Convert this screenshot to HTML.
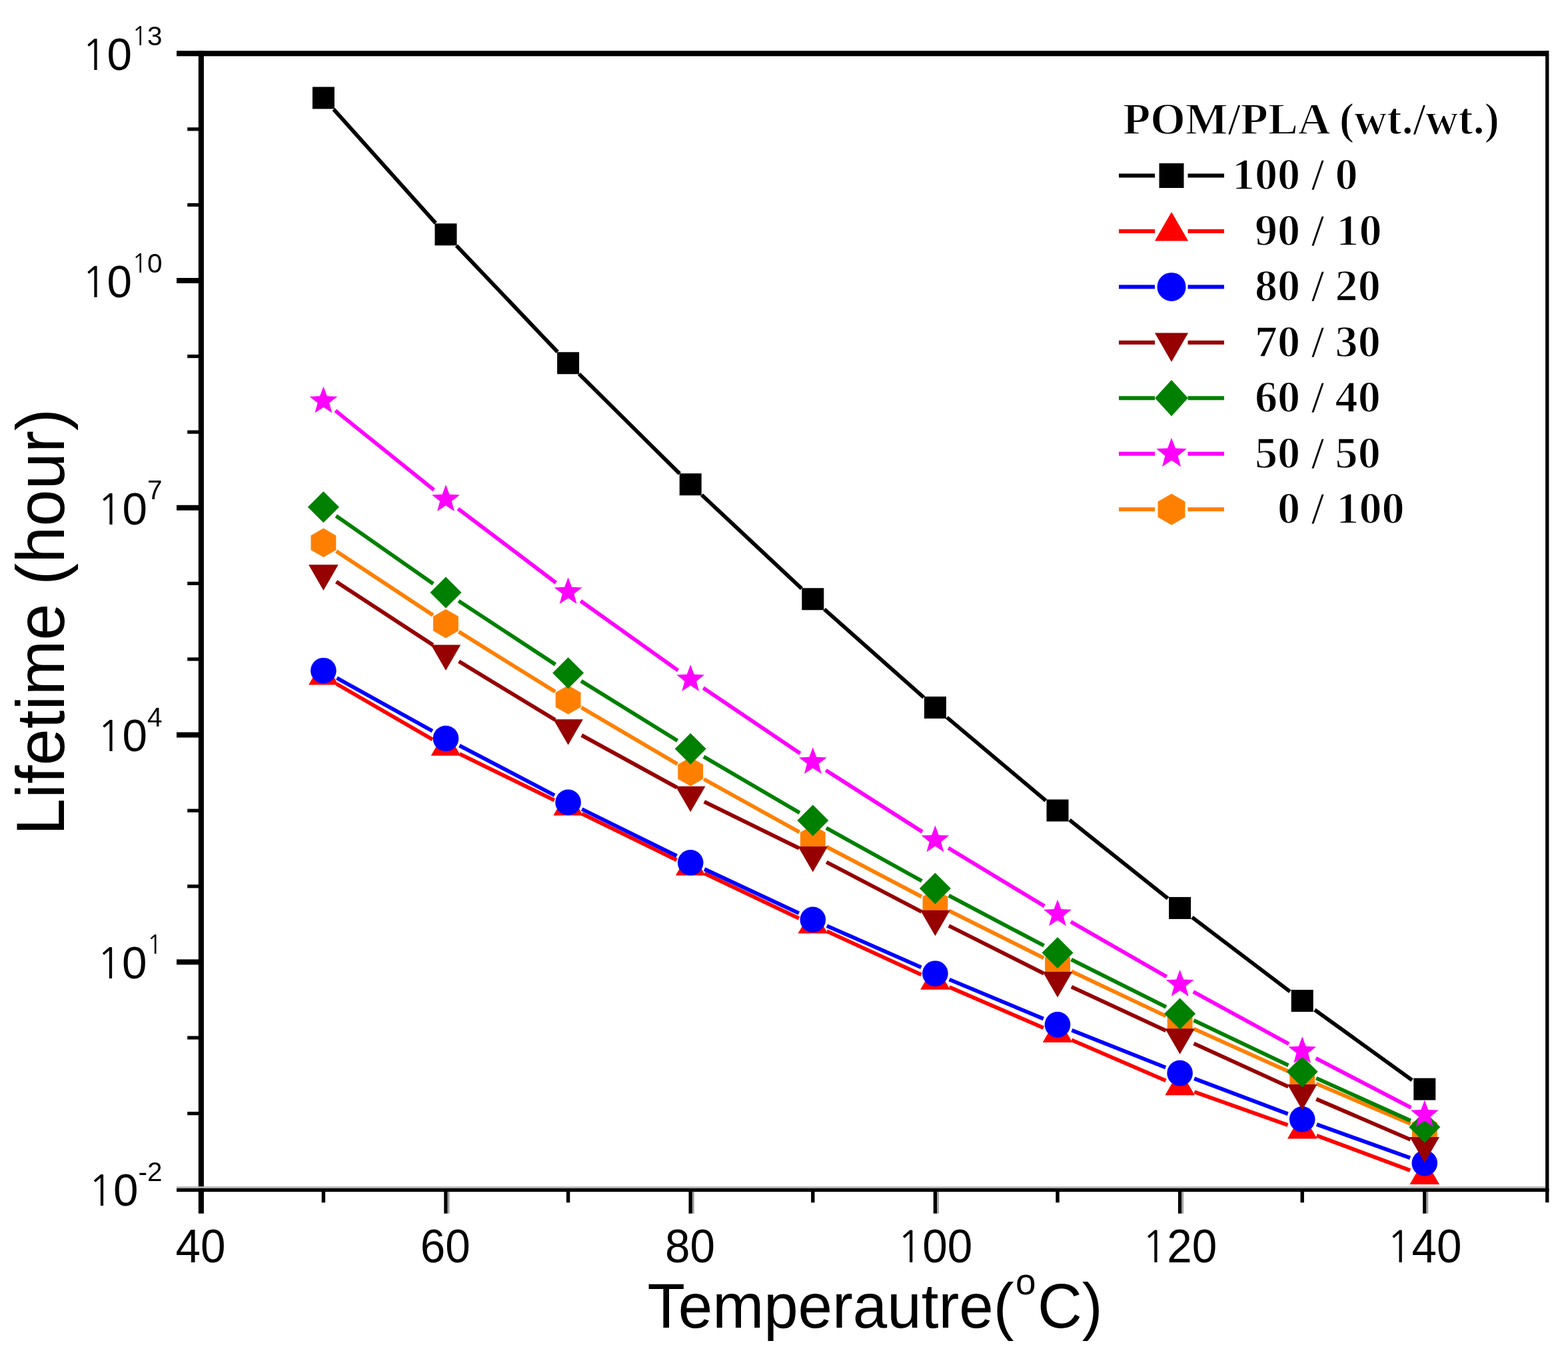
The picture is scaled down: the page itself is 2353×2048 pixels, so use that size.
<!DOCTYPE html>
<html><head><meta charset="utf-8"><title>Lifetime vs Temperature</title>
<style>
html,body{margin:0;padding:0;background:#fff;overflow:hidden}
svg{display:block}
text{font-family:"Liberation Sans",Arial,sans-serif;fill:#000}
.tk{font-size:67.4px}
.sup{font-size:40.5px}
.lg,.lgt{font-family:"Liberation Serif","Times New Roman",serif;font-weight:bold;font-size:68.2px;stroke:#fff;stroke-width:1.5px}
.lgt{font-size:67.6px}
.ttl{font-size:92.5px}
.ytl{font-size:99.3px}
</style></head>
<body>
<svg width="2353" height="2048" viewBox="0 0 2353 2048">
<rect width="2353" height="2048" fill="#fff"/>
<rect x="265" y="76.2" width="2059" height="8.1" fill="#000"/>
<rect x="297.8" y="76.2" width="8.1" height="1744.5" fill="#000"/>
<rect x="2319.1" y="76.2" width="5.3" height="1728" fill="#000"/>
<rect x="265" y="1780.1" width="2054" height="2.7" fill="#b8b8b8"/>
<rect x="265" y="1782.8" width="2059.4" height="5.4" fill="#000"/>
<rect x="281.2" y="1668.0" width="17" height="5.2" fill="#000"/>
<rect x="281.2" y="1554.4" width="17" height="5.2" fill="#000"/>
<rect x="265" y="1439.4" width="33" height="8" fill="#000"/>
<rect x="281.2" y="1327.2" width="17" height="5.2" fill="#000"/>
<rect x="281.2" y="1213.6" width="17" height="5.2" fill="#000"/>
<rect x="265" y="1098.6" width="33" height="8" fill="#000"/>
<rect x="281.2" y="986.4" width="17" height="5.2" fill="#000"/>
<rect x="281.2" y="872.8" width="17" height="5.2" fill="#000"/>
<rect x="265" y="757.8" width="33" height="8" fill="#000"/>
<rect x="281.2" y="645.6" width="17" height="5.2" fill="#000"/>
<rect x="281.2" y="532.0" width="17" height="5.2" fill="#000"/>
<rect x="265" y="417.0" width="33" height="8" fill="#000"/>
<rect x="281.2" y="304.8" width="17" height="5.2" fill="#000"/>
<rect x="281.2" y="191.2" width="17" height="5.2" fill="#000"/>
<rect x="482.7" y="1788" width="5.4" height="16.3" fill="#000"/>
<rect x="666.3" y="1788" width="5.4" height="32.7" fill="#000"/>
<rect x="671.7" y="1788" width="2.8" height="32.7" fill="#a0a0a0"/>
<rect x="849.9" y="1788" width="5.4" height="16.3" fill="#000"/>
<rect x="1033.5" y="1788" width="5.4" height="32.7" fill="#000"/>
<rect x="1038.9" y="1788" width="2.8" height="32.7" fill="#a0a0a0"/>
<rect x="1217.1" y="1788" width="5.4" height="16.3" fill="#000"/>
<rect x="1400.7" y="1788" width="5.4" height="32.7" fill="#000"/>
<rect x="1406.1" y="1788" width="2.8" height="32.7" fill="#a0a0a0"/>
<rect x="1584.3" y="1788" width="5.4" height="16.3" fill="#000"/>
<rect x="1767.9" y="1788" width="5.4" height="32.7" fill="#000"/>
<rect x="1773.3" y="1788" width="2.8" height="32.7" fill="#a0a0a0"/>
<rect x="1951.5" y="1788" width="5.4" height="16.3" fill="#000"/>
<rect x="2135.1" y="1788" width="5.4" height="32.7" fill="#000"/>
<rect x="2140.5" y="1788" width="2.8" height="32.7" fill="#a0a0a0"/>
<text class="tk" transform="translate(301.1,1894) scale(1,1.04)" text-anchor="middle">40</text>
<text class="tk" transform="translate(668.3,1894) scale(1,1.04)" text-anchor="middle">60</text>
<text class="tk" transform="translate(1035.5,1894) scale(1,1.04)" text-anchor="middle">80</text>
<text class="tk" transform="translate(1402.7,1894) scale(1,1.04)" text-anchor="middle"><tspan style="font-family:NanumGothic,'Liberation Sans',sans-serif;font-size:62.5px">1</tspan>00</text>
<text class="tk" transform="translate(1769.9,1894) scale(1,1.04)" text-anchor="middle"><tspan style="font-family:NanumGothic,'Liberation Sans',sans-serif;font-size:62.5px">1</tspan>20</text>
<text class="tk" transform="translate(2137.1,1894) scale(1,1.04)" text-anchor="middle"><tspan style="font-family:NanumGothic,'Liberation Sans',sans-serif;font-size:62.5px">1</tspan>40</text>
<text class="tk" transform="translate(243.4,105.0) scale(1,1.02)" text-anchor="end"><tspan style="font-family:NanumGothic,'Liberation Sans',sans-serif;font-size:62px">1</tspan>0<tspan class="sup" dy="-36.5"><tspan style="font-family:NanumGothic,'Liberation Sans',sans-serif;font-size:37.9px">1</tspan>3</tspan></text>
<text class="tk" transform="translate(243.4,445.8) scale(1,1.02)" text-anchor="end"><tspan style="font-family:NanumGothic,'Liberation Sans',sans-serif;font-size:62px">1</tspan>0<tspan class="sup" dy="-36.5"><tspan style="font-family:NanumGothic,'Liberation Sans',sans-serif;font-size:37.9px">1</tspan>0</tspan></text>
<text class="tk" transform="translate(243.4,786.6) scale(1,1.02)" text-anchor="end"><tspan style="font-family:NanumGothic,'Liberation Sans',sans-serif;font-size:62px">1</tspan>0<tspan class="sup" dy="-36.5">7</tspan></text>
<text class="tk" transform="translate(243.4,1127.4) scale(1,1.02)" text-anchor="end"><tspan style="font-family:NanumGothic,'Liberation Sans',sans-serif;font-size:62px">1</tspan>0<tspan class="sup" dy="-36.5">4</tspan></text>
<text class="tk" transform="translate(243.4,1468.2) scale(1,1.02)" text-anchor="end"><tspan style="font-family:NanumGothic,'Liberation Sans',sans-serif;font-size:62px">1</tspan>0<tspan class="sup" dy="-36.5"><tspan style="font-family:NanumGothic,'Liberation Sans',sans-serif;font-size:37.9px">1</tspan></tspan></text>
<text class="tk" transform="translate(243.4,1809.0) scale(1,1.02)" text-anchor="end"><tspan style="font-family:NanumGothic,'Liberation Sans',sans-serif;font-size:62px">1</tspan>0<tspan class="sup" dy="-36.5">-2</tspan></text>
<text class="ytl" transform="translate(96.1,1253.3) rotate(-90) scale(1,1.032)" x="0" y="0">Lifetime (hour)</text>
<g transform="translate(0,1992.2) scale(1,1.02)"><text class="ttl" x="971.5" y="0">Temperautre(</text><text x="1524.1" y="-49.5" font-size="55">o</text><text class="ttl" x="1557.1" y="0">C)</text></g>
<text class="lgt" x="1685" y="201.1">POM/PLA (wt./wt.)</text>
<rect x="1679" y="260.5" width="54" height="6" fill="#000000"/>
<rect x="1782.5" y="260.5" width="54.5" height="6" fill="#000000"/>
<rect x="1739.5" y="245.0" width="37.0" height="37.0" fill="#000000"/>
<text class="lg" x="1951.2" y="284.3" text-anchor="end">100</text>
<text class="lg" x="1967.9" y="284.3">/</text>
<text class="lg" x="2003.6" y="284.3">0</text>
<rect x="1679" y="343.9" width="54" height="6" fill="#ff0000"/>
<rect x="1782.5" y="343.9" width="54.5" height="6" fill="#ff0000"/>
<polygon points="1758.0,317.9 1732.9,361.4 1783.1,361.4" fill="#ff0000"/>
<text class="lg" x="1951.2" y="367.8" text-anchor="end">90</text>
<text class="lg" x="1967.9" y="367.8">/</text>
<text class="lg" x="2005.3" y="367.8">10</text>
<rect x="1679" y="427.4" width="54" height="6" fill="#0000ff"/>
<rect x="1782.5" y="427.4" width="54.5" height="6" fill="#0000ff"/>
<circle cx="1758.0" cy="430.4" r="21.5" fill="#0000ff"/>
<text class="lg" x="1951.2" y="451.2" text-anchor="end">80</text>
<text class="lg" x="1967.9" y="451.2">/</text>
<text class="lg" x="2003.6" y="451.2">20</text>
<rect x="1679" y="510.9" width="54" height="6" fill="#960000"/>
<rect x="1782.5" y="510.9" width="54.5" height="6" fill="#960000"/>
<polygon points="1758.0,542.9 1732.9,499.4 1783.1,499.4" fill="#960000"/>
<text class="lg" x="1951.2" y="534.6" text-anchor="end">70</text>
<text class="lg" x="1967.9" y="534.6">/</text>
<text class="lg" x="2003.6" y="534.6">30</text>
<rect x="1679" y="594.3" width="54" height="6" fill="#008000"/>
<rect x="1782.5" y="594.3" width="54.5" height="6" fill="#008000"/>
<polygon points="1758.0,570.1 1782.8,597.3 1758.0,624.5 1733.2,597.3" fill="#008000"/>
<text class="lg" x="1951.2" y="618.1" text-anchor="end">60</text>
<text class="lg" x="1967.9" y="618.1">/</text>
<text class="lg" x="2003.6" y="618.1">40</text>
<rect x="1679" y="677.8" width="54" height="6" fill="#ff00ff"/>
<rect x="1782.5" y="677.8" width="54.5" height="6" fill="#ff00ff"/>
<polygon points="1758.0,656.8 1763.9,672.6 1780.8,673.3 1767.6,683.9 1772.1,700.2 1758.0,690.8 1743.9,700.2 1748.4,683.9 1735.2,673.3 1752.1,672.6" fill="#ff00ff"/>
<text class="lg" x="1951.2" y="701.5" text-anchor="end">50</text>
<text class="lg" x="1967.9" y="701.5">/</text>
<text class="lg" x="2003.6" y="701.5">50</text>
<rect x="1679" y="761.2" width="54" height="6" fill="#ff8000"/>
<rect x="1782.5" y="761.2" width="54.5" height="6" fill="#ff8000"/>
<polygon points="1758.0,740.7 1778.4,752.5 1778.4,776.0 1758.0,787.7 1737.6,776.0 1737.6,752.5" fill="#ff8000"/>
<text class="lg" x="1951.2" y="785.0" text-anchor="end">0</text>
<text class="lg" x="1967.9" y="785.0">/</text>
<text class="lg" x="2005.3" y="785.0">100</text>
<path d="M500.7 164.0L653.7 334.7M684.9 368.4L836.7 528.1M868.9 561.0L1019.9 710.6M1053.0 742.5L1203.0 883.1M1237.0 914.1L1386.2 1046.4M1421.0 1076.4L1569.4 1201.2M1605.0 1230.3L1752.6 1348.1M1788.9 1376.3L1935.9 1487.7M1972.9 1515.1L2119.1 1620.6" stroke="#000000" stroke-width="5.8" fill="none"/>
<rect x="468.9" y="130.4" width="33.0" height="33.0" fill="#000000"/>
<rect x="652.5" y="335.3" width="33.0" height="33.0" fill="#000000"/>
<rect x="836.1" y="528.3" width="33.0" height="33.0" fill="#000000"/>
<rect x="1019.7" y="710.3" width="33.0" height="33.0" fill="#000000"/>
<rect x="1203.3" y="882.3" width="33.0" height="33.0" fill="#000000"/>
<rect x="1386.9" y="1045.1" width="33.0" height="33.0" fill="#000000"/>
<rect x="1570.5" y="1199.5" width="33.0" height="33.0" fill="#000000"/>
<rect x="1754.1" y="1345.9" width="33.0" height="33.0" fill="#000000"/>
<rect x="1937.7" y="1485.1" width="33.0" height="33.0" fill="#000000"/>
<rect x="2121.3" y="1617.6" width="33.0" height="33.0" fill="#000000"/>
<path d="M505.3 1026.2L649.1 1109.4M689.7 1131.1L831.9 1200.6M873.3 1220.9L1015.5 1290.4M1057.0 1310.4L1199.0 1377.8M1240.7 1397.2L1382.5 1462.3M1424.5 1481.0L1565.9 1542.1M1608.1 1560.4L1749.5 1621.3M1792.3 1638.2L1932.5 1688.0M1975.8 1703.8L2116.2 1756.0" stroke="#ff0000" stroke-width="5.8" fill="none"/>
<polygon points="485.4,988.9 463.1,1027.5 507.7,1027.5" fill="#ff0000"/>
<polygon points="669.0,1095.2 646.7,1133.8 691.3,1133.8" fill="#ff0000"/>
<polygon points="852.6,1185.0 830.3,1223.6 874.9,1223.6" fill="#ff0000"/>
<polygon points="1036.2,1274.9 1013.9,1313.4 1058.5,1313.4" fill="#ff0000"/>
<polygon points="1219.8,1362.0 1197.5,1400.5 1242.1,1400.5" fill="#ff0000"/>
<polygon points="1403.4,1446.2 1381.1,1484.7 1425.7,1484.7" fill="#ff0000"/>
<polygon points="1587.0,1525.5 1564.7,1564.1 1609.3,1564.1" fill="#ff0000"/>
<polygon points="1770.6,1604.8 1748.3,1643.3 1792.9,1643.3" fill="#ff0000"/>
<polygon points="1954.2,1670.0 1931.9,1708.6 1976.5,1708.6" fill="#ff0000"/>
<polygon points="2137.8,1738.4 2115.5,1776.9 2160.1,1776.9" fill="#ff0000"/>
<path d="M505.5 1017.3L648.9 1096.8M689.4 1118.6L832.2 1193.2M873.2 1214.0L1015.6 1284.2M1057.1 1304.0L1198.9 1370.1M1240.8 1389.1L1382.4 1451.4M1424.6 1469.6L1565.8 1528.5M1608.4 1545.8L1749.2 1601.6M1792.1 1618.2L1932.7 1671.2M1975.9 1687.0L2116.1 1737.3" stroke="#0000ff" stroke-width="5.8" fill="none"/>
<circle cx="485.4" cy="1006.2" r="19.3" fill="#0000ff"/>
<circle cx="669.0" cy="1108.0" r="19.3" fill="#0000ff"/>
<circle cx="852.6" cy="1203.9" r="19.3" fill="#0000ff"/>
<circle cx="1036.2" cy="1294.3" r="19.3" fill="#0000ff"/>
<circle cx="1219.8" cy="1379.8" r="19.3" fill="#0000ff"/>
<circle cx="1403.4" cy="1460.7" r="19.3" fill="#0000ff"/>
<circle cx="1587.0" cy="1537.4" r="19.3" fill="#0000ff"/>
<circle cx="1770.6" cy="1610.1" r="19.3" fill="#0000ff"/>
<circle cx="1954.2" cy="1679.3" r="19.3" fill="#0000ff"/>
<circle cx="2137.8" cy="1745.1" r="19.3" fill="#0000ff"/>
<path d="M504.6 827.0L649.8 923.0M688.5 947.8L833.1 1037.8M872.4 1061.6L1016.4 1146.2M1056.3 1169.0L1199.7 1248.5M1240.2 1270.4L1383.0 1345.4M1424.0 1366.4L1566.4 1437.3M1607.8 1457.4L1749.8 1524.5M1791.6 1543.7L1933.2 1607.3M1975.3 1625.8L2116.7 1686.2" stroke="#ff8000" stroke-width="5.8" fill="none"/>
<polygon points="485.4,792.5 504.3,803.4 504.3,825.2 485.4,836.1 466.5,825.2 466.5,803.4" fill="#ff8000"/>
<polygon points="669.0,913.9 687.9,924.8 687.9,946.6 669.0,957.5 650.1,946.6 650.1,924.8" fill="#ff8000"/>
<polygon points="852.6,1028.2 871.5,1039.1 871.5,1060.9 852.6,1071.8 833.7,1060.9 833.7,1039.1" fill="#ff8000"/>
<polygon points="1036.2,1136.0 1055.1,1146.9 1055.1,1168.7 1036.2,1179.6 1017.3,1168.7 1017.3,1146.9" fill="#ff8000"/>
<polygon points="1219.8,1237.9 1238.7,1248.8 1238.7,1270.6 1219.8,1281.5 1200.9,1270.6 1200.9,1248.8" fill="#ff8000"/>
<polygon points="1403.4,1334.3 1422.3,1345.2 1422.3,1367.0 1403.4,1377.9 1384.5,1367.0 1384.5,1345.2" fill="#ff8000"/>
<polygon points="1587.0,1425.7 1605.9,1436.6 1605.9,1458.4 1587.0,1469.3 1568.1,1458.4 1568.1,1436.6" fill="#ff8000"/>
<polygon points="1770.6,1512.5 1789.5,1523.4 1789.5,1545.2 1770.6,1556.1 1751.7,1545.2 1751.7,1523.4" fill="#ff8000"/>
<polygon points="1954.2,1594.9 1973.1,1605.8 1973.1,1627.6 1954.2,1638.5 1935.3,1627.6 1935.3,1605.8" fill="#ff8000"/>
<polygon points="2137.8,1673.4 2156.7,1684.3 2156.7,1706.1 2137.8,1717.0 2118.9,1706.1 2118.9,1684.3" fill="#ff8000"/>
<path d="M504.6 872.7L649.8 967.8M688.6 992.3L833.0 1080.1M872.8 1103.1L1016.0 1181.6M1056.8 1202.8L1199.2 1272.7M1240.2 1293.5L1383.0 1368.0M1423.9 1389.0L1566.5 1460.6M1607.9 1480.6L1749.7 1546.4M1791.5 1565.6L1933.3 1630.3M1975.3 1649.0L2116.7 1709.8" stroke="#960000" stroke-width="5.8" fill="none"/>
<polygon points="485.4,885.9 463.1,847.3 507.7,847.3" fill="#960000"/>
<polygon points="669.0,1006.1 646.7,967.5 691.3,967.5" fill="#960000"/>
<polygon points="852.6,1117.8 830.3,1079.2 874.9,1079.2" fill="#960000"/>
<polygon points="1036.2,1218.3 1013.9,1179.8 1058.5,1179.8" fill="#960000"/>
<polygon points="1219.8,1308.5 1197.5,1270.0 1242.1,1270.0" fill="#960000"/>
<polygon points="1403.4,1404.3 1381.1,1365.8 1425.7,1365.8" fill="#960000"/>
<polygon points="1587.0,1496.6 1564.7,1458.1 1609.3,1458.1" fill="#960000"/>
<polygon points="1770.6,1581.8 1748.3,1543.2 1792.9,1543.2" fill="#960000"/>
<polygon points="1954.2,1665.5 1931.9,1627.0 1976.5,1627.0" fill="#960000"/>
<polygon points="2137.8,1744.6 2115.5,1706.1 2160.1,1706.1" fill="#960000"/>
<path d="M504.3 774.0L650.1 875.8M688.2 901.6L833.4 997.0M872.1 1021.8L1016.7 1111.4M1056.0 1135.2L1200.0 1219.5M1239.9 1242.3L1383.3 1321.8M1423.8 1343.6L1566.6 1418.8M1607.6 1439.7L1750.0 1510.8M1791.4 1530.9L1933.4 1598.3M1975.2 1617.6L2116.8 1681.5" stroke="#008000" stroke-width="5.8" fill="none"/>
<polygon points="485.4,737.3 508.9,760.8 485.4,784.3 461.9,760.8" fill="#008000"/>
<polygon points="669.0,865.5 692.5,889.0 669.0,912.5 645.5,889.0" fill="#008000"/>
<polygon points="852.6,986.2 876.1,1009.7 852.6,1033.2 829.1,1009.7" fill="#008000"/>
<polygon points="1036.2,1100.0 1059.7,1123.5 1036.2,1147.0 1012.7,1123.5" fill="#008000"/>
<polygon points="1219.8,1207.6 1243.3,1231.1 1219.8,1254.6 1196.3,1231.1" fill="#008000"/>
<polygon points="1403.4,1309.4 1426.9,1332.9 1403.4,1356.4 1379.9,1332.9" fill="#008000"/>
<polygon points="1587.0,1406.0 1610.5,1429.5 1587.0,1453.0 1563.5,1429.5" fill="#008000"/>
<polygon points="1770.6,1497.5 1794.1,1521.0 1770.6,1544.5 1747.1,1521.0" fill="#008000"/>
<polygon points="1954.2,1584.6 1977.7,1608.1 1954.2,1631.6 1930.7,1608.1" fill="#008000"/>
<polygon points="2137.8,1667.4 2161.3,1690.9 2137.8,1714.4 2114.3,1690.9" fill="#008000"/>
<path d="M503.3 616.1L651.1 734.9M687.3 763.2L834.3 874.4M871.3 901.6L1017.5 1006.0M1055.3 1032.2L1200.7 1130.3M1239.2 1155.6L1384.0 1248.0M1423.1 1272.3L1567.3 1359.6M1606.9 1383.0L1750.7 1465.5M1790.8 1488.0L1934.0 1566.2M1974.6 1587.8L2117.4 1661.9" stroke="#ff00ff" stroke-width="5.8" fill="none"/>
<polygon points="485.4,579.7 490.8,594.3 506.3,594.9 494.2,604.6 498.3,619.5 485.4,611.0 472.5,619.5 476.6,604.6 464.5,594.9 480.0,594.3" fill="#ff00ff"/>
<polygon points="669.0,727.3 674.4,741.8 689.9,742.5 677.8,752.1 681.9,767.1 669.0,758.5 656.1,767.1 660.2,752.1 648.1,742.5 663.6,741.8" fill="#ff00ff"/>
<polygon points="852.6,866.2 858.0,880.8 873.5,881.4 861.4,891.1 865.5,906.0 852.6,897.5 839.7,906.0 843.8,891.1 831.7,881.4 847.2,880.8" fill="#ff00ff"/>
<polygon points="1036.2,997.3 1041.6,1011.8 1057.1,1012.5 1045.0,1022.2 1049.1,1037.1 1036.2,1028.6 1023.3,1037.1 1027.4,1022.2 1015.3,1012.5 1030.8,1011.8" fill="#ff00ff"/>
<polygon points="1219.8,1121.2 1225.2,1135.7 1240.7,1136.4 1228.6,1146.0 1232.7,1161.0 1219.8,1152.4 1206.9,1161.0 1211.0,1146.0 1198.9,1136.4 1214.4,1135.7" fill="#ff00ff"/>
<polygon points="1403.4,1238.4 1408.8,1252.9 1424.3,1253.6 1412.2,1263.3 1416.3,1278.2 1403.4,1269.6 1390.5,1278.2 1394.6,1263.3 1382.5,1253.6 1398.0,1252.9" fill="#ff00ff"/>
<polygon points="1587.0,1349.5 1592.4,1364.0 1607.9,1364.7 1595.8,1374.4 1599.9,1389.3 1587.0,1380.7 1574.1,1389.3 1578.2,1374.4 1566.1,1364.7 1581.6,1364.0" fill="#ff00ff"/>
<polygon points="1770.6,1455.0 1776.0,1469.5 1791.5,1470.2 1779.4,1479.8 1783.5,1494.8 1770.6,1486.2 1757.7,1494.8 1761.8,1479.8 1749.7,1470.2 1765.2,1469.5" fill="#ff00ff"/>
<polygon points="1954.2,1555.2 1959.6,1569.7 1975.1,1570.4 1963.0,1580.0 1967.1,1595.0 1954.2,1586.4 1941.3,1595.0 1945.4,1580.0 1933.3,1570.4 1948.8,1569.7" fill="#ff00ff"/>
<polygon points="2137.8,1650.5 2143.2,1665.1 2158.7,1665.8 2146.6,1675.4 2150.7,1690.3 2137.8,1681.8 2124.9,1690.3 2129.0,1675.4 2116.9,1665.8 2132.4,1665.1" fill="#ff00ff"/>
</svg>
</body></html>
